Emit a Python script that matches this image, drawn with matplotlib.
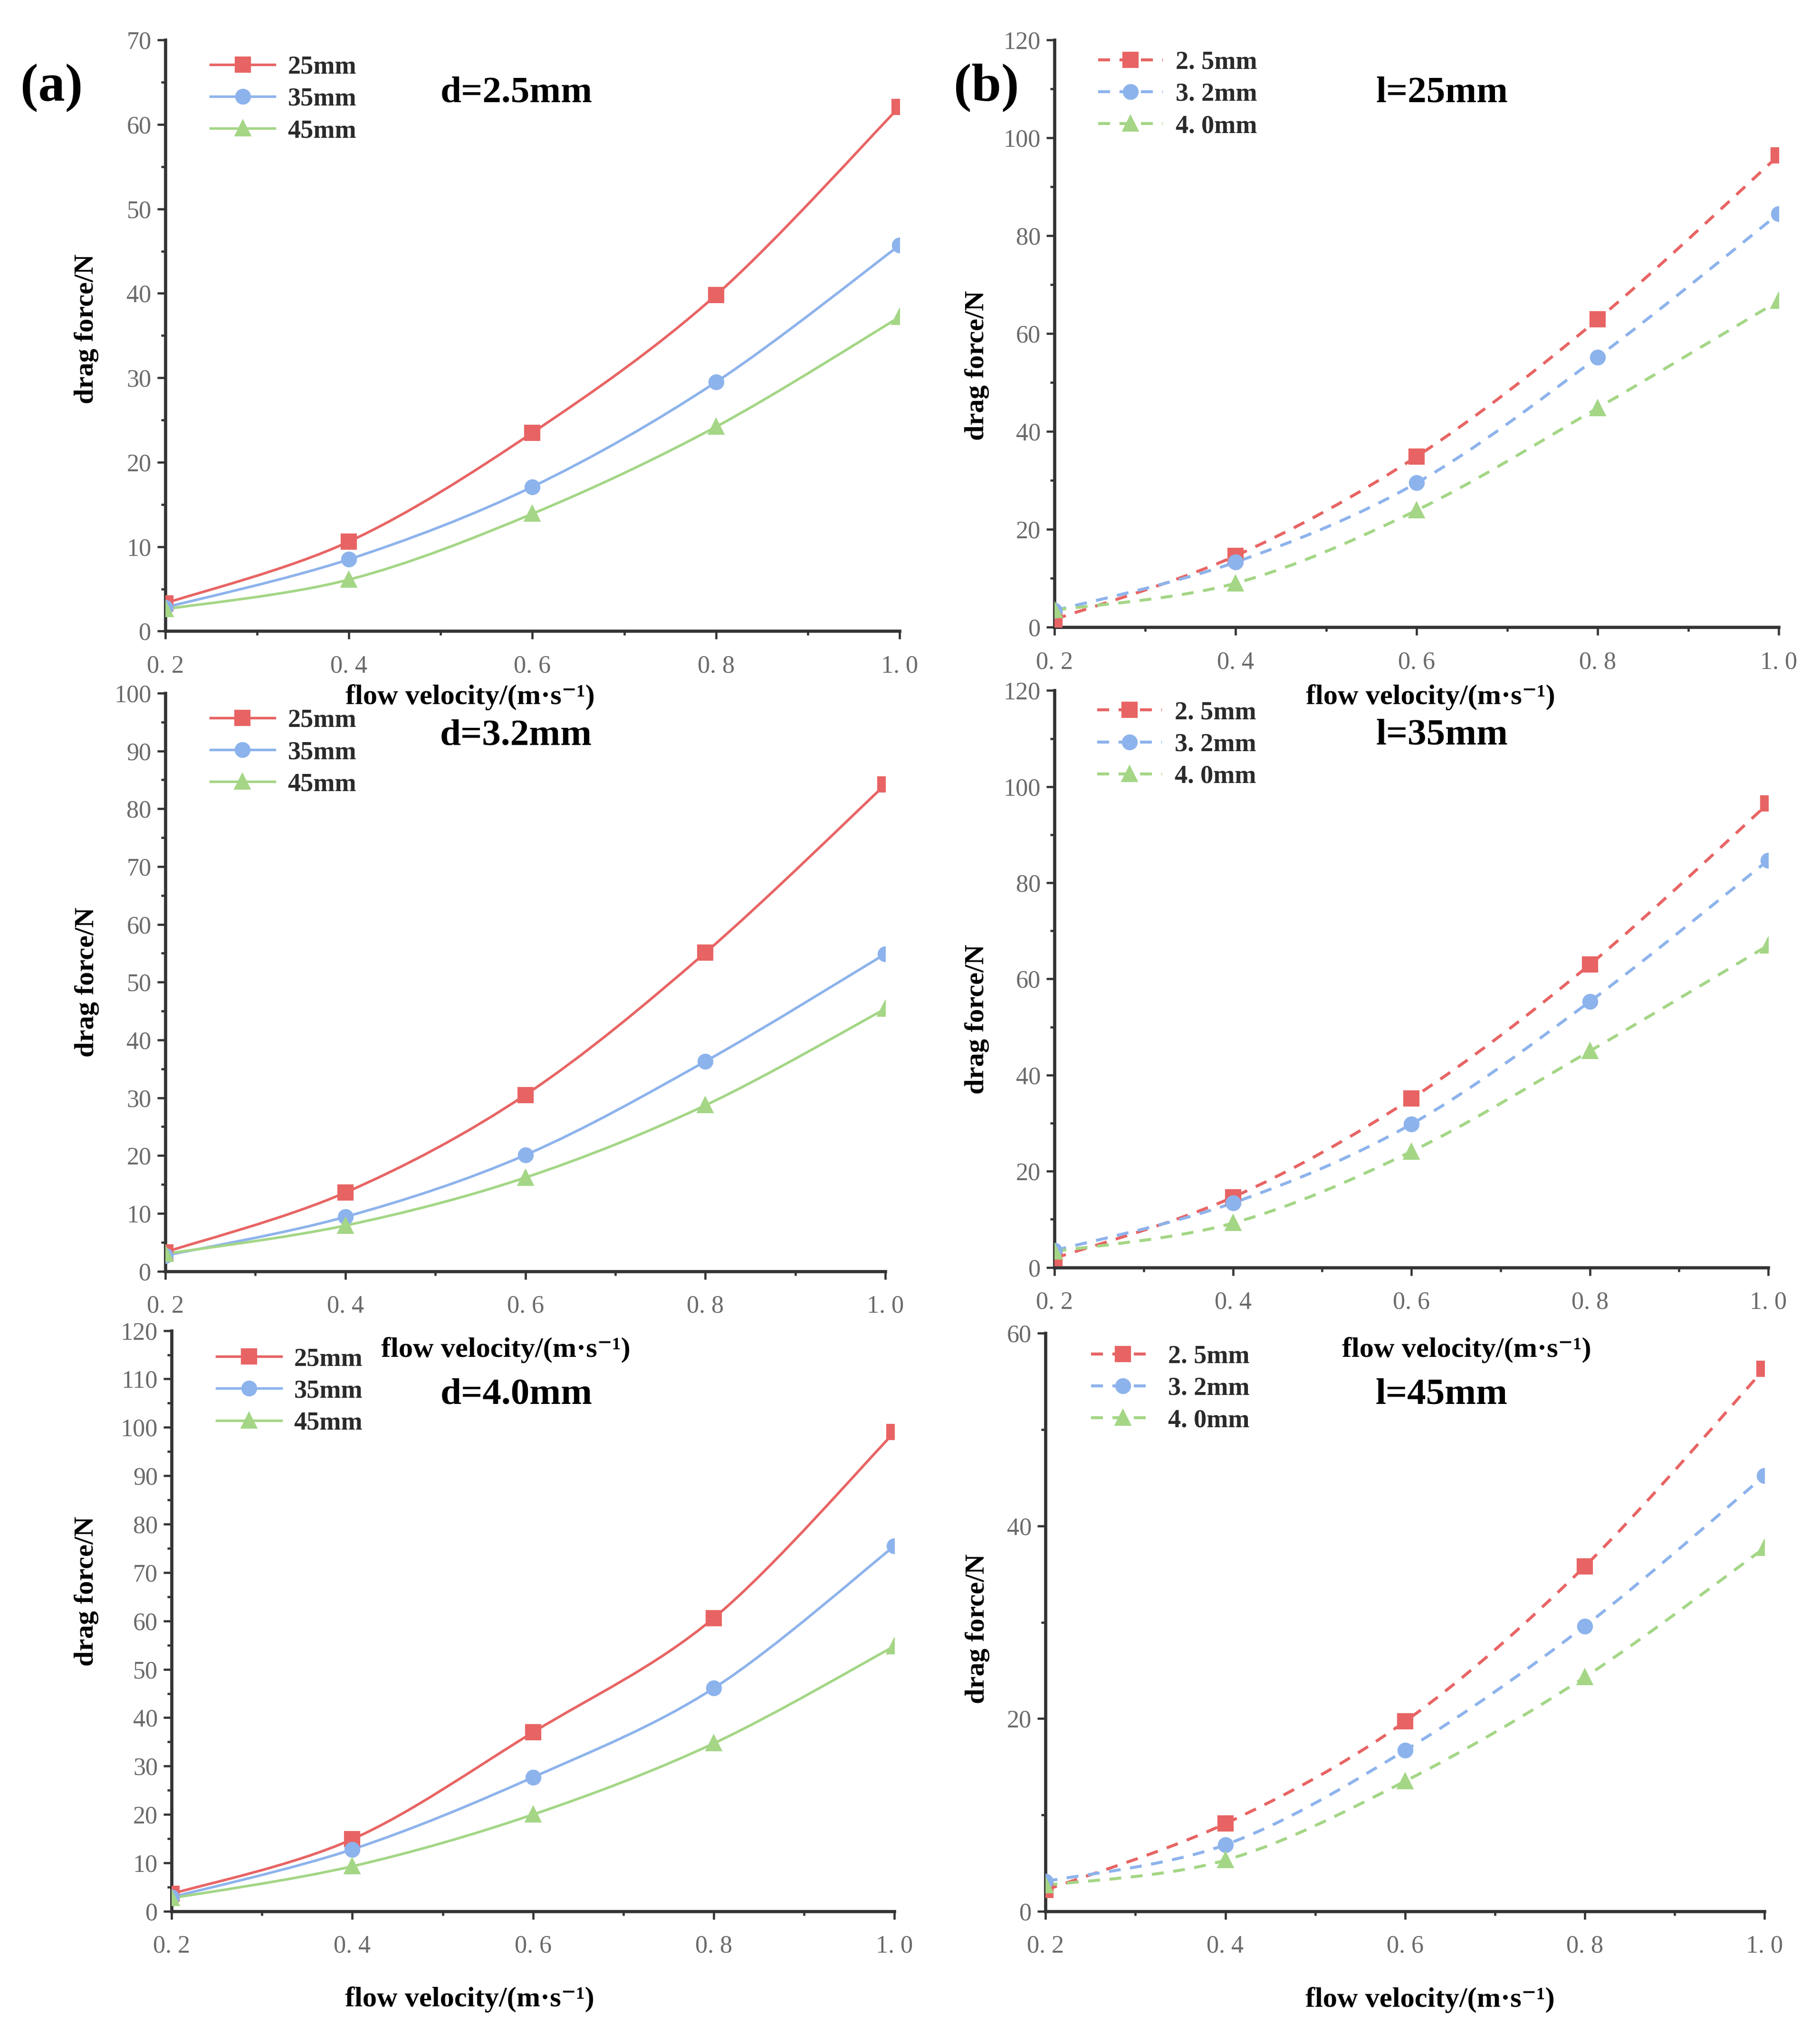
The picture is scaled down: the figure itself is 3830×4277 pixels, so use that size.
import numpy as np
import matplotlib
matplotlib.use("Agg")
import matplotlib.pyplot as plt
from matplotlib.path import Path
from matplotlib.patches import PathPatch
from matplotlib.lines import Line2D
from matplotlib.ticker import MultipleLocator, FuncFormatter

plt.rcParams['font.family'] = ['Liberation Serif', 'DejaVu Serif']

# flow velocity (m/s)
velocity = [0.2, 0.4, 0.6, 0.8, 1.0]

length_labels = ['25mm', '35mm', '45mm']
diam_labels = ['2. 5mm', '3. 2mm', '4. 0mm']

# (a) fixed diameter, series = length 25 / 35 / 45 mm
d25_l25 = [3.3, 10.6, 23.5, 39.8, 62.1]
d25_l35 = [2.8, 8.5, 17.1, 29.5, 45.7]
d25_l45 = [2.6, 6.1, 13.9, 24.2, 37.2]

d32_l25 = [3.3, 13.6, 30.5, 55.1, 84.2]
d32_l35 = [2.7, 9.4, 20.1, 36.3, 54.9]
d32_l45 = [3.0, 7.9, 16.2, 28.7, 45.4]

d40_l25 = [3.6, 14.9, 37.0, 60.6, 99.0]
d40_l35 = [2.9, 12.8, 27.7, 46.1, 75.5]
d40_l45 = [2.7, 9.3, 20.0, 34.7, 54.8]

# (b) fixed length, series = diameter 2.5 / 3.2 / 4.0 mm
l25_d25 = [1.6, 14.6, 34.9, 62.9, 96.4]
l25_d32 = [3.4, 13.3, 29.5, 55.2, 84.5]
l25_d40 = [3.5, 9.0, 23.9, 44.8, 66.7]

l35_d25 = [1.9, 14.6, 35.1, 63.0, 96.5]
l35_d32 = [3.5, 13.4, 29.8, 55.3, 84.7]
l35_d40 = [3.3, 9.2, 24.1, 45.0, 67.0]

l45_d25 = [2.2, 9.1, 19.7, 35.8, 56.3]
l45_d32 = [3.1, 6.9, 16.7, 29.6, 45.2]
l45_d40 = [2.7, 5.3, 13.5, 24.3, 37.7]

colors = ['#E86464', '#8DB3EC', '#A4D686']
markers = ['s', 'o', '^']
tick_grey = '#6a6a6a'
spine_col = '#333333'


def spline_path(xs, ys):
    # Catmull-Rom curve through the points, written as cubic Bezier pieces
    pts = np.column_stack([xs, ys])
    ext = np.vstack([pts[0], pts, pts[-1]])
    verts = [pts[0]]
    codes = [Path.MOVETO]
    for i in range(len(pts) - 1):
        p0, p1, p2, p3 = ext[i], ext[i + 1], ext[i + 2], ext[i + 3]
        verts += [p1 + (p2 - p0) / 6, p2 - (p3 - p1) / 6, p2]
        codes += [Path.CURVE4] * 3
    return Path(verts, codes)


def panel(rect, series, labels, dashed, ymax, ymajor, note, note_xy,
          leg_xy, xlab_xy, ylab_xy):
    ax = fig.add_axes(rect)
    ax.patch.set_visible(False)
    ls = (0, (4, 3.2)) if dashed else '-'
    lw = 1.5 if dashed else 1.3
    handles = []
    for ys, c, mk, lab in zip(series, colors, markers, labels):
        ax.add_patch(PathPatch(spline_path(velocity, ys), fill=False,
                               edgecolor=c, lw=lw, linestyle=ls, zorder=2))
        ax.plot(velocity, ys, linestyle='none', marker=mk, ms=7,
                color=c, zorder=3)
        handles.append(Line2D([], [], color=c, lw=lw, linestyle=ls,
                              marker=mk, ms=7, label=lab))
    ax.set_xlim(0.2, 1.0)
    ax.set_ylim(0, ymax)
    ax.xaxis.set_major_locator(MultipleLocator(0.2))
    ax.xaxis.set_minor_locator(MultipleLocator(0.1))
    ax.yaxis.set_major_locator(MultipleLocator(ymajor))
    ax.yaxis.set_minor_locator(MultipleLocator(ymajor / 2))
    ax.xaxis.set_major_formatter(FuncFormatter(
        lambda v, p: f"{v:.1f}".replace('.', '. ')))
    ax.yaxis.set_major_formatter(FuncFormatter(lambda v, p: f"{v:.0f}"))
    for s in ['top', 'right']:
        ax.spines[s].set_visible(False)
    for s in ['left', 'bottom']:
        ax.spines[s].set_linewidth(1.6)
        ax.spines[s].set_color(spine_col)
    ax.tick_params(which='major', direction='out', length=4, width=1.1,
                   color=spine_col, labelsize=12.5, labelcolor=tick_grey)
    ax.tick_params(which='minor', direction='out', length=2.2, width=1.1,
                   color=spine_col)
    ax.tick_params(axis='x', which='major', pad=8)
    ax.tick_params(axis='y', which='major', pad=3)

    ax.set_xlabel('flow velocity/(m·s⁻¹)', fontsize=14.5, fontweight='bold',
                  va='center')
    ax.xaxis.set_label_coords(*xlab_xy)
    ax.set_ylabel('drag force/N', fontsize=14, fontweight='bold',
                  va='center')
    ax.yaxis.set_label_coords(*ylab_xy)

    ax.text(note_xy[0], note_xy[1], note, transform=ax.transAxes,
            fontsize=19, fontweight='bold', ha='center', va='center')

    leg = ax.legend(handles=handles, loc='upper left', bbox_to_anchor=leg_xy,
                    frameon=False, borderpad=0, borderaxespad=0,
                    handlelength=2.5, handletextpad=0.5, labelspacing=0.32,
                    prop={'size': 13, 'weight': 'bold'})
    for t in leg.get_texts():
        t.set_color('#2a2a2a')
    return ax


fig = plt.figure(figsize=(3830 / 300, 4277 / 300), dpi=300)

panel([0.0908, 0.6894, 0.4035, 0.2909], [d25_l25, d25_l35, d25_l45],
      length_labels, False, 70, 10, 'd=2.5mm', (0.478, 0.910),
      (0.0615, 0.974), (0.415, -0.112), (-0.107, 0.511))
panel([0.0908, 0.3744, 0.3957, 0.2845], [d32_l25, d32_l35, d32_l45],
      length_labels, False, 100, 10, 'd=3.2mm', (0.487, 0.926),
      (0.0627, 0.973), (0.473, -0.136), (-0.109, 0.50))
panel([0.0943, 0.0594, 0.3972, 0.2858], [d40_l25, d40_l35, d40_l45],
      length_labels, False, 120, 10, 'd=4.0mm', (0.477, 0.889),
      (0.0625, 0.971), (0.4125, -0.152), (-0.118, 0.551))

panel([0.5794, 0.6913, 0.3979, 0.2890], [l25_d25, l25_d32, l25_d40],
      diam_labels, True, 120, 20, 'l=25mm', (0.535, 0.910),
      (0.0606, 0.982), (0.519, -0.119), (-0.107, 0.446))
panel([0.5794, 0.3763, 0.3922, 0.2839], [l35_d25, l35_d32, l35_d40],
      diam_labels, True, 120, 20, 'l=35mm', (0.5425, 0.922),
      (0.060, 0.982), (0.577, -0.143), (-0.1085, 0.43))
panel([0.5745, 0.0594, 0.3950, 0.2845], [l45_d25, l45_d32, l45_d40],
      diam_labels, True, 60, 20, 'l=45mm', (0.551, 0.893),
      (0.063, 0.980), (0.535, -0.153), (-0.095, 0.489))

fig.text(0.0284, 0.957, '(a)', fontsize=27, fontweight='bold',
         ha='center', va='center')
fig.text(0.542, 0.957, '(b)', fontsize=27, fontweight='bold',
         ha='center', va='center')

fig.savefig('out.png', dpi=300, facecolor='white')
